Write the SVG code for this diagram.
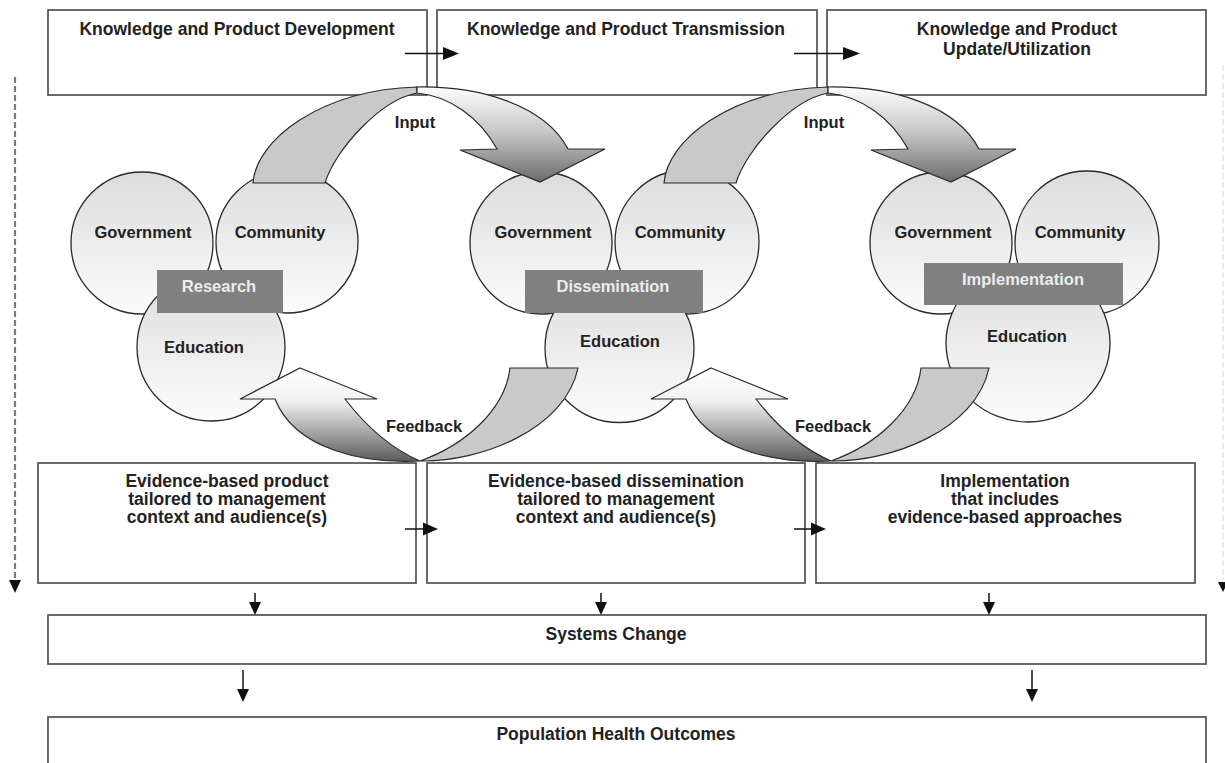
<svg xmlns="http://www.w3.org/2000/svg" width="1225" height="763" viewBox="0 0 1225 763">
<style>
.box{fill:#fff;stroke:#5a5a5a;stroke-width:1.8}
.circ{fill:url(#cg);stroke:#2a2a2a;stroke-width:1.3}
.t{font-family:"Liberation Sans",Arial,sans-serif;font-weight:bold;font-size:16.5px;fill:#222;text-anchor:middle}
.big{font-size:17.5px}
.tag{fill:#808080}
.tagt{fill:#ececec}
.flat{fill:#c9c9c9;stroke:#2a2a2a;stroke-width:1.2}
.gin{fill:url(#gIn);stroke:#2a2a2a;stroke-width:1.2}
.gfb{fill:url(#gFb);stroke:#2a2a2a;stroke-width:1.2}
.ln{stroke:#111;stroke-width:1.5;fill:none}
.hd{fill:#111}
</style>
<defs>
<linearGradient id="cg" x1="0" y1="0" x2="0" y2="1">
<stop offset="0" stop-color="#dcdcdc"/>
<stop offset="1" stop-color="#fcfcfc"/>
</linearGradient>
<linearGradient id="gIn" gradientUnits="userSpaceOnUse" x1="0" y1="86" x2="0" y2="182">
<stop offset="0" stop-color="#ffffff"/>
<stop offset="0.5" stop-color="#c4c4c4"/>
<stop offset="1" stop-color="#6a6a6a"/>
</linearGradient>
<linearGradient id="gFb" gradientUnits="userSpaceOnUse" x1="0" y1="368" x2="0" y2="462">
<stop offset="0" stop-color="#ffffff"/>
<stop offset="0.35" stop-color="#f2f2f2"/>
<stop offset="1" stop-color="#5a5a5a"/>
</linearGradient>
</defs>

<g id="stage-development">
<rect class="box" x="48" y="10" width="379" height="85"/>
<text class="t big" x="237" y="35">Knowledge and Product Development</text>
</g>
<g id="stage-transmission">
<rect class="box" x="437" y="10" width="380" height="85"/>
<text class="t big" x="626" y="35">Knowledge and Product Transmission</text>
</g>
<g id="stage-update">
<rect class="box" x="827" y="10" width="379" height="85"/>
<text class="t big" x="1017" y="35">Knowledge and Product</text>
<text class="t big" x="1017" y="55">Update/Utilization</text>
</g>

<g id="outcome-product">
<rect class="box" x="38" y="463" width="378" height="120"/>
<text class="t big" x="227" y="487">Evidence-based product</text>
<text class="t big" x="227" y="505">tailored to management</text>
<text class="t big" x="227" y="523">context and audience(s)</text>
</g>
<g id="outcome-dissemination">
<rect class="box" x="427" y="463" width="378" height="120"/>
<text class="t big" x="616" y="487">Evidence-based dissemination</text>
<text class="t big" x="616" y="505">tailored to management</text>
<text class="t big" x="616" y="523">context and audience(s)</text>
</g>
<g id="outcome-implementation">
<rect class="box" x="816" y="463" width="379" height="120"/>
<text class="t big" x="1005" y="487">Implementation</text>
<text class="t big" x="1005" y="505">that includes</text>
<text class="t big" x="1005" y="523">evidence-based approaches</text>
</g>

<g id="systems-change">
<rect class="box" x="48" y="615" width="1158" height="49"/>
<text class="t big" x="616" y="640">Systems Change</text>
</g>
<g id="population-health">
<rect class="box" x="48" y="717" width="1158" height="60"/>
<text class="t big" x="616" y="740">Population Health Outcomes</text>
</g>

<g id="cluster-research">
<circle class="circ" cx="142" cy="243" r="71"/>
<circle class="circ" cx="287" cy="242" r="71"/>
<circle class="circ" cx="211" cy="347" r="74"/>
<text class="t" x="143" y="238">Government</text>
<text class="t" x="280" y="238">Community</text>
<text class="t" x="204" y="353">Education</text>
<rect class="tag" x="157" y="270" width="126" height="43"/>
<text class="t tagt" x="219" y="292">Research</text>
</g>
<g id="cluster-dissemination">
<circle class="circ" cx="541" cy="243" r="71"/>
<circle class="circ" cx="687" cy="242" r="72"/>
<circle class="circ" cx="619.5" cy="348" r="74.5"/>
<text class="t" x="543" y="238">Government</text>
<text class="t" x="680" y="238">Community</text>
<text class="t" x="620" y="347">Education</text>
<rect class="tag" x="525" y="270" width="178" height="43"/>
<text class="t tagt" x="613" y="292">Dissemination</text>
</g>
<g id="cluster-implementation">
<circle class="circ" cx="941" cy="243" r="71"/>
<circle class="circ" cx="1087" cy="243" r="72"/>
<ellipse class="circ" cx="1028" cy="343" rx="82" ry="79"/>
<text class="t" x="943" y="238">Government</text>
<text class="t" x="1080" y="238">Community</text>
<text class="t" x="1027" y="342">Education</text>
<rect class="tag" x="924" y="263" width="199" height="42"/>
<text class="t tagt" x="1023" y="285">Implementation</text>
</g>

<g id="connectors">
<g id="input-1">
<path class="flat" d="M253,183 C256,140 320,90 417,87 L417,93 C380,100 335,150 325,183 Z"/>
<path class="gin" d="M417,87 C480,86 545,105 568,149 L605,149 L540,182 L460,150 L497,149 C480,118 450,96 417,93 Z"/>
</g>
<g id="input-2" transform="translate(411,0)">
<path class="flat" d="M253,183 C256,140 320,90 417,87 L417,93 C380,100 335,150 325,183 Z"/>
<path class="gin" d="M417,87 C480,86 545,105 568,149 L605,149 L540,182 L460,150 L497,149 C480,118 450,96 417,93 Z"/>
</g>
<g id="feedback-1">
<path class="gfb" d="M300,368 L377,399 L345,399 C365,425 390,448 420,461 C365,464 295,450 275,399 L240,399 Z"/>
<path class="flat" d="M420,461 C480,462 565,430 578,368 L510,368 C505,410 465,445 420,461 Z"/>
</g>
<g id="feedback-2" transform="translate(411,0)">
<path class="gfb" d="M300,368 L377,399 L345,399 C365,425 390,448 420,461 C365,464 295,450 275,399 L240,399 Z"/>
<path class="flat" d="M420,461 C480,462 565,430 578,368 L510,368 C505,410 465,445 420,461 Z"/>
</g>
<text class="t" x="415" y="128">Input</text>
<text class="t" x="824" y="128">Input</text>
<text class="t" x="424" y="432">Feedback</text>
<text class="t" x="833" y="432">Feedback</text>

<line class="ln" x1="405" y1="53.5" x2="445" y2="53.5"/>
<polygon class="hd" points="443,47 459,53.5 443,60"/>
<line class="ln" x1="794" y1="53.5" x2="845" y2="53.5"/>
<polygon class="hd" points="843,47 860,53.5 843,60"/>

<line class="ln" x1="405" y1="529" x2="425" y2="529"/>
<polygon class="hd" points="423,522.5 438,529 423,535.5"/>
<line class="ln" x1="794" y1="529" x2="813" y2="529"/>
<polygon class="hd" points="811,522.5 826,529 811,535.5"/>

<line class="ln" x1="255" y1="593" x2="255" y2="604"/>
<polygon class="hd" points="249,602 261,602 255,615"/>
<line class="ln" x1="601" y1="593" x2="601" y2="604"/>
<polygon class="hd" points="595,602 607,602 601,615"/>
<line class="ln" x1="989" y1="593" x2="989" y2="604"/>
<polygon class="hd" points="983,602 995,602 989,615"/>

<line class="ln" x1="243" y1="670" x2="243" y2="691"/>
<polygon class="hd" points="237,689 249,689 243,702"/>
<line class="ln" x1="1032" y1="670" x2="1032" y2="691"/>
<polygon class="hd" points="1026,689 1038,689 1032,702"/>

<line x1="15" y1="77" x2="15" y2="581" stroke="#7a7a7a" stroke-width="2.2" stroke-dasharray="6 3"/>
<polygon class="hd" points="9,580 21,580 15,593"/>
<line x1="1223" y1="65" x2="1223" y2="580" stroke="#e4e4e4" stroke-width="1.5" stroke-dasharray="6 3"/>
<polygon class="hd" points="1218,582 1228,582 1223,592"/>
</g>
</svg>
